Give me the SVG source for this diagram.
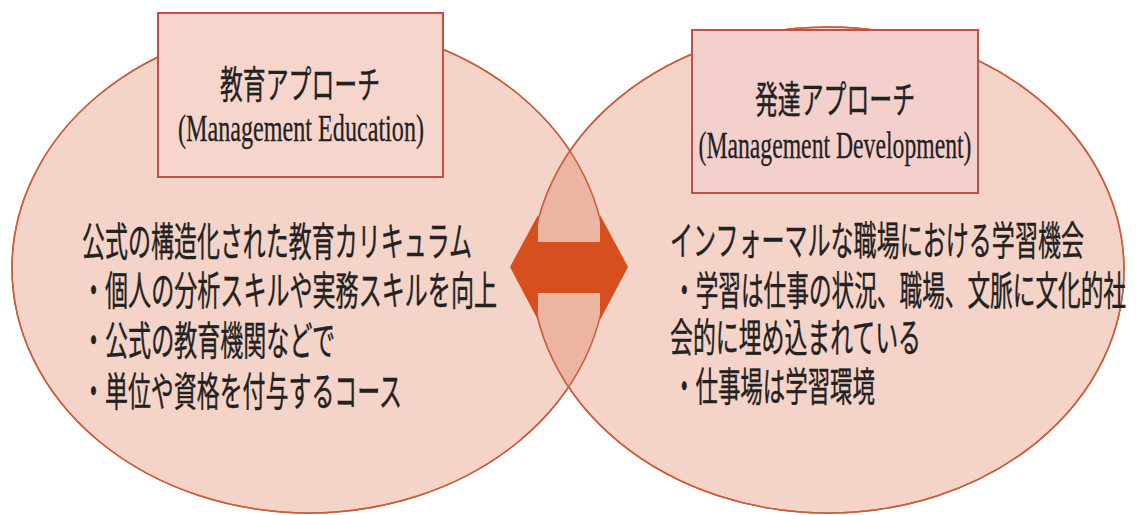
<svg xmlns="http://www.w3.org/2000/svg" width="1138" height="515" viewBox="0 0 1138 515">
<style>
.ell{fill:#f4d3c8;stroke:#c8603f;stroke-width:1.5}
.line{fill:none;stroke:#c8603f;stroke-width:1.5}
.box{stroke:#c0504d;stroke-width:2}
.jp{font-family:"Noto Sans CJK JP","Noto Sans CJK SC",sans-serif;fill:#222;stroke:#222;stroke-width:0.4}
.en{font-family:"Liberation Serif",serif;fill:#222;stroke:#222;stroke-width:0.3}
</style>
<defs>
<clipPath id="clipL"><ellipse cx="309" cy="268" rx="297" ry="245"/></clipPath>
</defs>
<rect width="1138" height="515" fill="#ffffff"/>
<g id="circle-left">
<ellipse class="ell" cx="309" cy="268" rx="297" ry="245"/>
</g>
<g id="circle-right">
<ellipse class="ell" cx="828" cy="270" rx="296" ry="243"/>
</g>
<g id="overlap">
<ellipse cx="828" cy="270" rx="296" ry="243" fill="#ebb4a3" clip-path="url(#clipL)"/>
<ellipse class="line" cx="309" cy="268" rx="297" ry="245"/>
<ellipse class="line" cx="828" cy="270" rx="296" ry="243"/>
</g>
<g id="connectors">
<polygon points="510,267 538,215 538,242 600,242 600,215 628,267 600,320 600,293 538,293 538,320" fill="#d64f1c"/>
</g>
<g id="box-education">
<rect class="box" x="158" y="13" width="285" height="164" fill="#f6d6cc"/>
<text class="jp" x="300" y="98" font-size="38" text-anchor="middle" textLength="160" lengthAdjust="spacingAndGlyphs">教育アプローチ</text>
<text class="en" x="301" y="141" font-size="38" text-anchor="middle" textLength="246" lengthAdjust="spacingAndGlyphs">(Management Education)</text>
</g>
<g id="box-development">
<rect class="box" x="692" y="30" width="286" height="163" fill="#f4d0cd"/>
<text class="jp" x="835" y="113" font-size="38" text-anchor="middle" textLength="160" lengthAdjust="spacingAndGlyphs">発達アプローチ</text>
<text class="en" x="835" y="158" font-size="38" text-anchor="middle" textLength="273" lengthAdjust="spacingAndGlyphs">(Management Development)</text>
</g>
<g id="text-left" class="jp" font-size="40">
<text x="82" y="256" textLength="390" lengthAdjust="spacingAndGlyphs">公式の構造化された教育カリキュラム</text>
<text x="82" y="305" textLength="415" lengthAdjust="spacingAndGlyphs">・個人の分析スキルや実務スキルを向上</text>
<text x="82" y="355" textLength="253" lengthAdjust="spacingAndGlyphs">・公式の教育機関などで</text>
<text x="82" y="406" textLength="320" lengthAdjust="spacingAndGlyphs">・単位や資格を付与するコース</text>
</g>
<g id="text-right" class="jp" font-size="40">
<text x="670" y="255" textLength="414" lengthAdjust="spacingAndGlyphs">インフォーマルな職場における学習機会</text>
<text x="673" y="305" textLength="453" lengthAdjust="spacingAndGlyphs">・学習は仕事の状況、職場、文脈に文化的社</text>
<text x="670" y="352" textLength="251" lengthAdjust="spacingAndGlyphs">会的に埋め込まれている</text>
<text x="673" y="401" textLength="202" lengthAdjust="spacingAndGlyphs">・仕事場は学習環境</text>
</g>
</svg>
